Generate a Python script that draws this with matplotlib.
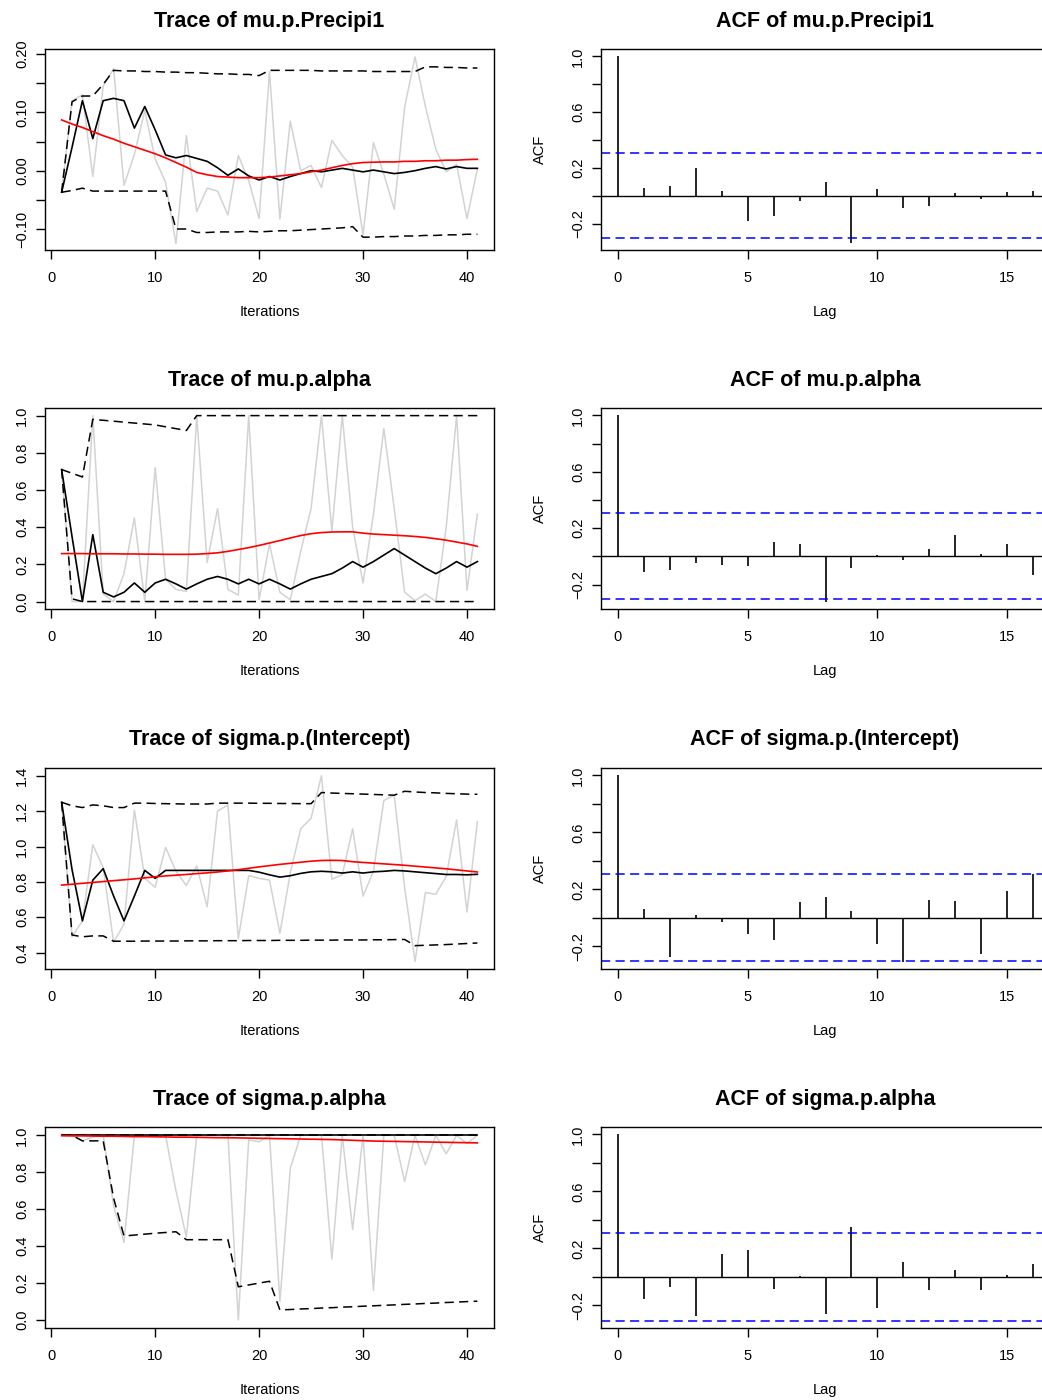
import numpy as np
import matplotlib
matplotlib.use("Agg")
import matplotlib.pyplot as plt

plt.rcParams['font.family'] = ['Liberation Sans', 'DejaVu Sans']

# ---- data ----
iters = list(range(1, 42))
lags = list(range(0, 17))

# mu.p.Precipi1
p1_chain = [-0.037, 0.12, 0.13, -0.01, 0.145, 0.175, -0.025, 0.028, 0.103, 0.02,
            -0.02, -0.125, 0.06, -0.07, -0.03, -0.035, -0.076, 0.026, -0.017, -0.082,
            0.17, -0.083, 0.085, 0.0, 0.009, -0.029, 0.052, 0.026, 0.006, -0.11,
            0.048, -0.006, -0.066, 0.109, 0.195, 0.11, 0.037, -0.002, 0.011, -0.082,
            0.003]
p1_mean = [-0.037, 0.04, 0.12, 0.055, 0.12, 0.124, 0.12, 0.073, 0.11, 0.07,
           0.027, 0.022, 0.026, 0.021, 0.016, 0.005, -0.008, 0.003, -0.009, -0.016,
           -0.01, -0.016, -0.01, -0.005, 0.0, -0.002, 0.001, 0.004, 0.001, -0.002,
           0.001, -0.002, -0.005, -0.003, 0.0, 0.004, 0.007, 0.003, 0.007, 0.004,
           0.004]
p1_upper = [-0.037, 0.118, 0.128, 0.128, 0.148, 0.172, 0.171, 0.171, 0.170, 0.170,
            0.169, 0.169, 0.168, 0.168, 0.167, 0.166, 0.166, 0.165, 0.165, 0.163,
            0.172, 0.172, 0.172, 0.172, 0.172, 0.171, 0.171, 0.171, 0.171, 0.171,
            0.170, 0.170, 0.170, 0.170, 0.170, 0.178, 0.178, 0.177, 0.177, 0.176,
            0.176]
p1_lower = [-0.037, -0.034, -0.030, -0.035, -0.035, -0.035, -0.035, -0.035, -0.035, -0.035,
            -0.035, -0.100, -0.100, -0.106, -0.106, -0.105, -0.105, -0.105, -0.104, -0.105,
            -0.104, -0.103, -0.103, -0.102, -0.101, -0.100, -0.099, -0.098, -0.096, -0.114,
            -0.114, -0.113, -0.113, -0.112, -0.112, -0.111, -0.111, -0.110, -0.110, -0.109,
            -0.109]
p1_smooth = [0.087, 0.080, 0.074, 0.067, 0.060, 0.054, 0.047, 0.041, 0.035, 0.029,
             0.022, 0.014, 0.006, -0.003, -0.007, -0.010, -0.011, -0.012, -0.012, -0.012,
             -0.011, -0.009, -0.007, -0.005, -0.002, 0.001, 0.005, 0.009, 0.012, 0.014,
             0.0145, 0.015, 0.015, 0.016, 0.016, 0.017, 0.017, 0.018, 0.018, 0.019,
             0.0195]
p1_acf = [1.0, 0.055, 0.071, 0.198, 0.031, -0.181, -0.143, -0.04, 0.1, -0.336,
          0.052, -0.09, -0.071, 0.017, -0.024, 0.024, 0.036]

# mu.p.alpha
p2_chain = [0.71, 0.0, 0.0, 1.0, 0.04, 0.0, 0.15, 0.45, 0.0, 0.72,
            0.12, 0.065, 0.055, 1.0, 0.21, 0.50, 0.065, 0.035, 1.0, 0.01,
            0.31, 0.05, 0.01, 0.27, 0.5, 1.0, 0.38, 1.0, 0.4, 0.1,
            0.47, 0.93, 0.5, 0.05, 0.005, 0.04, 0.0, 0.4, 1.0, 0.06,
            0.47]
p2_mean = [0.71, 0.35, 0.0, 0.36, 0.05, 0.025, 0.05, 0.1, 0.05, 0.1,
           0.12, 0.095, 0.067, 0.095, 0.12, 0.135, 0.12, 0.095, 0.12, 0.095,
           0.12, 0.095, 0.067, 0.095, 0.12, 0.135, 0.15, 0.18, 0.215, 0.185,
           0.215, 0.25, 0.285, 0.25, 0.215, 0.18, 0.15, 0.18, 0.215, 0.185,
           0.215]
p2_upper = [0.71, 0.69, 0.67, 0.98, 0.975, 0.97, 0.965, 0.96, 0.955, 0.95,
            0.94, 0.93, 0.92, 1.0, 1.0, 1.0, 1.0, 1.0, 1.0, 1.0,
            1.0, 1.0, 1.0, 1.0, 1.0, 1.0, 1.0, 1.0, 1.0, 1.0,
            1.0, 1.0, 1.0, 1.0, 1.0, 1.0, 1.0, 1.0, 1.0, 1.0,
            1.0]
p2_lower = [0.71, 0.015, 0.0, 0.0, 0.0, 0.0, 0.0, 0.0, 0.0, 0.0,
            0.0, 0.0, 0.0, 0.0, 0.0, 0.0, 0.0, 0.0, 0.0, 0.0,
            0.0, 0.0, 0.0, 0.0, 0.0, 0.0, 0.0, 0.0, 0.0, 0.0,
            0.0, 0.0, 0.0, 0.0, 0.0, 0.0, 0.0, 0.0, 0.0, 0.0,
            0.0]
p2_smooth = [0.258, 0.258, 0.258, 0.257, 0.257, 0.257, 0.256, 0.256, 0.255, 0.255,
             0.254, 0.254, 0.254, 0.255, 0.258, 0.262, 0.270, 0.280, 0.290, 0.302,
             0.315, 0.328, 0.342, 0.355, 0.365, 0.371, 0.374, 0.375, 0.375, 0.368,
             0.363, 0.360, 0.357, 0.354, 0.350, 0.345, 0.338, 0.330, 0.320, 0.310,
             0.297]
p2_acf = [1.0, -0.111, -0.099, -0.05, -0.061, -0.068, 0.101, 0.085, -0.321, -0.08,
          0.009, -0.024, 0.052, 0.149, 0.017, 0.085, -0.13]

# sigma.p.(Intercept)
p3_chain = [1.25, 0.49, 0.58, 1.01, 0.88, 0.46, 0.56, 1.206, 0.82, 0.77,
            0.995, 0.86, 0.78, 0.89, 0.66, 1.2, 1.235, 0.48, 0.835, 0.82,
            0.81, 0.51, 0.85, 1.1, 1.16, 1.4, 0.815, 0.84, 1.1, 0.72,
            0.86, 1.26, 1.29, 0.77, 0.35, 0.74, 0.73, 0.83, 1.15, 0.63,
            1.14]
p3_mean = [1.25, 0.87, 0.58, 0.81, 0.875, 0.72, 0.58, 0.72, 0.865, 0.82,
           0.865, 0.865, 0.865, 0.865, 0.865, 0.865, 0.865, 0.865, 0.865, 0.855,
           0.84, 0.827, 0.835, 0.848, 0.857, 0.86, 0.857, 0.85, 0.857, 0.85,
           0.857, 0.86, 0.865, 0.862, 0.857, 0.852, 0.847, 0.842, 0.842, 0.84,
           0.843]
p3_upper = [1.25, 1.23, 1.22, 1.235, 1.23, 1.22, 1.22, 1.245, 1.245, 1.243,
            1.242, 1.241, 1.240, 1.240, 1.240, 1.245, 1.245, 1.245, 1.245, 1.244,
            1.244, 1.243, 1.243, 1.242, 1.242, 1.305, 1.302, 1.300, 1.298, 1.296,
            1.294, 1.292, 1.29, 1.312, 1.308, 1.305, 1.303, 1.300, 1.298, 1.296,
            1.295]
p3_lower = [1.25, 0.50, 0.49, 0.495, 0.495, 0.465, 0.465, 0.465, 0.466, 0.466,
            0.466, 0.466, 0.467, 0.467, 0.467, 0.468, 0.468, 0.468, 0.469, 0.469,
            0.469, 0.470, 0.470, 0.470, 0.471, 0.471, 0.471, 0.472, 0.472, 0.472,
            0.473, 0.473, 0.474, 0.475, 0.44, 0.442, 0.444, 0.446, 0.449, 0.452,
            0.455]
p3_smooth = [0.782, 0.787, 0.792, 0.797, 0.802, 0.807, 0.812, 0.817, 0.823, 0.829,
             0.834, 0.838, 0.842, 0.847, 0.851, 0.856, 0.862, 0.869, 0.877, 0.885,
             0.892, 0.899, 0.905, 0.911, 0.917, 0.921, 0.922, 0.921, 0.914, 0.910,
             0.906, 0.902, 0.898, 0.894, 0.889, 0.884, 0.879, 0.874, 0.868, 0.862,
             0.856]
p3_acf = [1.0, 0.059, -0.275, 0.023, -0.028, -0.11, -0.153, 0.113, 0.143, 0.047,
          -0.183, -0.307, 0.124, 0.117, -0.251, 0.185, 0.307]

# sigma.p.alpha
p4_chain = [1.0, 1.0, 0.97, 0.99, 1.0, 0.62, 0.42, 1.0, 1.0, 1.0,
            1.0, 0.70, 0.45, 1.0, 1.0, 1.0, 1.0, 0.0, 0.975, 0.965,
            1.0, 0.1, 0.82, 1.0, 1.0, 1.0, 0.33, 1.0, 0.49, 1.0,
            0.16, 1.0, 1.0, 0.75, 1.0, 0.84, 1.0, 0.9, 1.0, 0.955,
            1.0]
p4_mean = [1.0] * 41
p4_upper = [1.0] * 41
p4_lower = [1.0, 1.0, 0.97, 0.97, 0.97, 0.66, 0.455, 0.46, 0.465, 0.47,
            0.474, 0.478, 0.435, 0.435, 0.435, 0.435, 0.435, 0.18, 0.19, 0.2,
            0.21, 0.055, 0.057, 0.06, 0.062, 0.065, 0.067, 0.07, 0.072, 0.075,
            0.077, 0.08, 0.082, 0.085, 0.087, 0.09, 0.092, 0.095, 0.097, 0.1,
            0.102]
p4_smooth = [0.998, 0.997, 0.997, 0.996, 0.995, 0.995, 0.994, 0.993, 0.993, 0.992,
             0.991, 0.990, 0.990, 0.989, 0.988, 0.987, 0.987, 0.986, 0.985, 0.984,
             0.983, 0.982, 0.981, 0.980, 0.979, 0.978, 0.977, 0.975, 0.973, 0.971,
             0.969, 0.968, 0.967, 0.966, 0.965, 0.964, 0.963, 0.962, 0.961, 0.960,
             0.959]
p4_acf = [1.0, -0.158, -0.073, -0.276, 0.163, 0.191, -0.087, 0.005, -0.262, 0.351,
          -0.219, 0.108, -0.094, 0.047, -0.094, 0.014, 0.092]

names = ["mu.p.Precipi1", "mu.p.alpha", "sigma.p.(Intercept)", "sigma.p.alpha"]
chains = [p1_chain, p2_chain, p3_chain, p4_chain]
means = [p1_mean, p2_mean, p3_mean, p4_mean]
uppers = [p1_upper, p2_upper, p3_upper, p4_upper]
lowers = [p1_lower, p2_lower, p3_lower, p4_lower]
smooths = [p1_smooth, p2_smooth, p3_smooth, p4_smooth]
acfs = [p1_acf, p2_acf, p3_acf, p4_acf]
ci = 0.306

trace_ylims = [(-0.136, 0.2086), (-0.04, 1.041), (0.308, 1.4435), (-0.043, 1.045)]
trace_yticks = [[-0.10, -0.05, 0.00, 0.05, 0.10, 0.15, 0.20],
                [0.0, 0.2, 0.4, 0.6, 0.8, 1.0],
                [0.4, 0.6, 0.8, 1.0, 1.2, 1.4],
                [0.0, 0.2, 0.4, 0.6, 0.8, 1.0]]
trace_ylabels = [["\u22120.10", "", "0.00", "", "0.10", "", "0.20"],
                 ["0.0", "0.2", "0.4", "0.6", "0.8", "1.0"],
                 ["0.4", "0.6", "0.8", "1.0", "1.2", "1.4"],
                 ["0.0", "0.2", "0.4", "0.6", "0.8", "1.0"]]
acf_yticks = [-0.2, 0.0, 0.2, 0.4, 0.6, 0.8, 1.0]
acf_ylabels = ["\u22120.2", "", "0.2", "", "0.6", "", "1.0"]

# ---- layout (pixels of a 1042x1400 canvas) ----
W, H = 1042, 1400
fig = plt.figure(figsize=(W / 100, H / 100), dpi=100)
tops = [49, 408, 768, 1127]
ax_h = 201
dash = (6, 3.5)
fs_tick = 10.5
fs_title = 15.5


def style_axes(ax):
    for sp in ax.spines.values():
        sp.set_linewidth(1.0)
    ax.tick_params(direction='out', length=6.5, width=1.0, labelsize=fs_tick,
                   colors='black')
    ax.tick_params(axis='x', pad=8.5)
    ax.tick_params(axis='y', pad=5, labelrotation=90)
    for lab in ax.get_yticklabels():
        lab.set_va('center')


for k in range(4):
    bottom = (H - tops[k] - ax_h) / H
    # trace panel
    ax = fig.add_axes([45 / W, bottom, 449 / W, ax_h / H])
    ax.plot(iters, chains[k], color='#d3d3d3', lw=1.1)
    ax.plot(iters, uppers[k], color='black', lw=1.1, linestyle=(0, dash))
    ax.plot(iters, lowers[k], color='black', lw=1.1, linestyle=(0, dash))
    ax.plot(iters, means[k], color='black', lw=1.2)
    ax.plot(iters, smooths[k], color='red', lw=1.2)
    ax.set_xlim(-0.6, 42.6)
    ax.set_ylim(*trace_ylims[k])
    ax.set_xticks([0, 10, 20, 30, 40])
    ax.set_yticks(trace_yticks[k])
    ax.set_yticklabels(trace_ylabels[k])
    style_axes(ax)
    ax.text(0.5, 1 + 22.5 / ax_h, "Trace of " + names[k], transform=ax.transAxes,
            ha='center', va='baseline', fontsize=fs_title, fontweight='bold')
    ax.set_xlabel("Iterations", fontsize=fs_tick)
    ax.xaxis.set_label_coords(0.5, -62 / ax_h)
    ax.xaxis.label.set_va('center')

    # ACF panel (right edge runs past the canvas, as in the reference)
    ax2 = fig.add_axes([601 / W, bottom, 449 / W, ax_h / H])
    ax2.vlines(lags, 0, acfs[k], color='black', lw=1.2)
    ax2.axhline(0, color='black', lw=1.0)
    ax2.axhline(ci, color='blue', lw=1.1, linestyle=(0, dash))
    ax2.axhline(-ci, color='blue', lw=1.1, linestyle=(0, dash))
    lo = min(min(acfs[k]), -ci)
    span = 1.0 - lo
    ax2.set_ylim(lo - 0.04 * span, 1.0 + 0.04 * span)
    ax2.set_xlim(-0.64, 16.64)
    ax2.set_xticks([0, 5, 10, 15])
    ax2.set_yticks(acf_yticks)
    ax2.set_yticklabels(acf_ylabels)
    style_axes(ax2)
    # title and x label centred on the visible part, like the reference
    ax2.text((825 - 601) / 449, 1 + 22.5 / ax_h, "ACF of " + names[k],
             transform=ax2.transAxes, ha='center', va='baseline',
             fontsize=fs_title, fontweight='bold')
    ax2.set_xlabel("Lag", fontsize=fs_tick)
    ax2.xaxis.set_label_coords((825 - 601) / 449, -62 / ax_h)
    ax2.xaxis.label.set_va('center')
    ax2.set_ylabel("ACF", fontsize=fs_tick)
    ax2.yaxis.set_label_coords(-61 / 449, 0.5)
    ax2.yaxis.label.set_va('center')

fig.savefig("out.png", dpi=100)
